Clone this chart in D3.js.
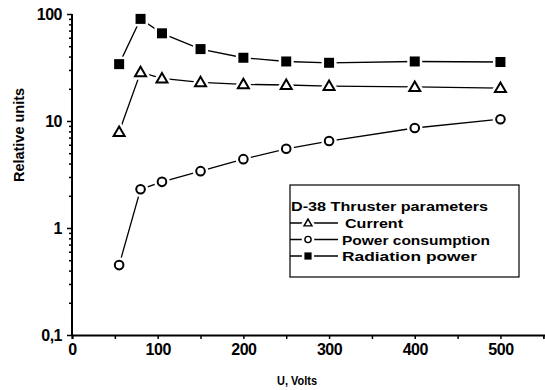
<!DOCTYPE html>
<html>
<head>
<meta charset="utf-8">
<script src="https://cdn.jsdelivr.net/npm/d3@7"></script>
<style>
  html, body { margin: 0; padding: 0; background: #fff; }
  svg text { font-family: "Liberation Sans", Arial, sans-serif; font-weight: bold; fill: #000; }
</style>
</head>
<body>
<svg id="chart" width="545" height="390"></svg>
<script>
// Discharge voltage, V
const voltage = [55, 80, 105, 150, 200, 250, 300, 400, 500];
// Relative units
const current = [7.9, 28.5, 25, 23, 22, 21.7, 21.2, 20.8, 20.3];
const powerConsumption = [0.45, 2.3, 2.7, 3.4, 4.4, 5.5, 6.5, 8.6, 10.4];
const radiationPower = [34, 90, 66, 47, 39, 36, 35, 36, 35.6];

const xTicks = [0, 100, 200, 300, 400, 500];
const yTicks = [0.1, 1, 10, 100];
const yTickLabels = ["0,1", "1", "10", "100"];

const legendTitle = "D-38 Thruster parameters";
const seriesNames = ["Current", "Power consumption", "Radiation power"];

const svg = d3.select("#chart");
const plotLeft = 72, plotRight = 545, plotTop = 14, plotBottom = 335;

const x = d3.scaleLinear().domain([0, 552]).range([plotLeft, plotRight]);
const y = d3.scaleLog().domain([0.1, 100]).range([plotBottom, plotTop]);

// Axes
const xAxis = d3.axisBottom(x)
  .tickValues(d3.range(0, 551, 50))
  .tickSize(4)
  .tickFormat(d => xTicks.includes(d) ? d : "");
const gx = svg.append("g").attr("transform", `translate(0,${plotBottom})`).call(xAxis);
gx.select(".domain").attr("stroke-width", 2);
gx.selectAll(".tick line").attr("stroke-width", 1.5);
gx.selectAll(".tick text").attr("font-size", 16).attr("y", 6).attr("dy", "0.85em")
  .attr("letter-spacing", -0.5);

const minorY = [];
for (let e = -1; e < 2; e++) for (let m = 1; m < 10; m++) minorY.push(m * Math.pow(10, e));
minorY.push(100);
const yAxis = d3.axisLeft(y)
  .tickValues(minorY)
  .tickSize(3)
  .tickFormat(d => {
    const i = yTicks.findIndex(t => Math.abs(t - d) < 1e-9);
    return i >= 0 ? yTickLabels[i] : "";
  });
const gy = svg.append("g").attr("transform", `translate(${plotLeft},0)`).call(yAxis);
gy.select(".domain").attr("stroke-width", 2).attr("d", `M-0,${plotBottom}V${plotTop}`);
gy.selectAll(".tick line").attr("stroke-width", 1.5)
  .attr("x2", d => yTicks.some(t => Math.abs(t - d) < 1e-9) ? -5 : -3);
gy.selectAll(".tick text").attr("font-size", 16).attr("x", -10).attr("letter-spacing", -0.5);

// Axis titles
svg.append("text")
  .attr("x", 277).attr("y", 385)
  .attr("font-size", 13).attr("textLength", 40).attr("lengthAdjust", "spacingAndGlyphs")
  .text("U, Volts");
svg.append("text")
  .attr("transform", "translate(24,135) rotate(-90)")
  .attr("x", -47)
  .attr("font-size", 14).attr("textLength", 94).attr("lengthAdjust", "spacingAndGlyphs")
  .text("Relative units");

// Series
const series = [
  { name: seriesNames[0], values: current, shape: "triangle" },
  { name: seriesNames[1], values: powerConsumption, shape: "circle" },
  { name: seriesNames[2], values: radiationPower, shape: "square" }
];

// Markers carry a white halo so connecting lines stop short of them
function drawMarker(g, shape, cx, cy, k = 1, halo = 2.5) {
  const layers = halo > 0 ? [["#fff", 2 * k + 2 * halo], ["#000", 2 * k]] : [["#000", 2 * k]];
  layers.forEach(([col, sw], li) => {
    const isHalo = halo > 0 && li === 0;
    if (shape === "square") {
      const s = 10 * k;
      g.append("rect").attr("x", cx - s / 2).attr("y", cy - s / 2).attr("width", s).attr("height", s)
        .attr("fill", isHalo ? "#fff" : "#000")
        .attr("stroke", isHalo ? "#fff" : "none").attr("stroke-width", isHalo ? 2 * halo : 0);
    } else if (shape === "circle") {
      g.append("circle").attr("cx", cx).attr("cy", cy).attr("r", 4.3 * k)
        .attr("fill", "#fff").attr("stroke", col).attr("stroke-width", sw);
    } else {
      const a = 5.5 * k, b = 4 * k;
      g.append("path")
        .attr("d", `M${cx},${cy - a}L${cx + a},${cy + b}L${cx - a},${cy + b}Z`)
        .attr("fill", "#fff").attr("stroke", col).attr("stroke-width", sw)
        .attr("stroke-linejoin", "miter");
    }
  });
}

const line = d3.line().x(d => x(d[0])).y(d => y(d[1]));
series.forEach(s => {
  const pts = voltage.map((v, i) => [v, s.values[i]]);
  svg.append("path").datum(pts).attr("d", line)
    .attr("fill", "none").attr("stroke", "#000").attr("stroke-width", 1.3);
  const g = svg.append("g");
  pts.forEach(p => drawMarker(g, s.shape, x(p[0]), y(p[1])));
});

// Legend
const lg = svg.append("g");
lg.append("rect").attr("x", 290).attr("y", 185).attr("width", 229).attr("height", 92)
  .attr("fill", "#fff").attr("stroke", "#000").attr("stroke-width", 1.2);
lg.append("text").attr("x", 291).attr("y", 211).attr("font-size", 13)
  .attr("textLength", 197).attr("lengthAdjust", "spacingAndGlyphs").text(legendTitle);
const legendWidths = [58, 148, 135];
series.forEach((s, i) => {
  const ly = 223 + i * 16.5;
  lg.append("line").attr("x1", 290).attr("x2", 338).attr("y1", ly).attr("y2", ly)
    .attr("stroke", "#000").attr("stroke-width", 1.3);
  drawMarker(lg, s.shape, 308, ly, 0.72, 2.5);
  lg.append("text").attr("x", i === 0 ? 345 : 342).attr("y", ly + 5).attr("font-size", 13)
    .attr("textLength", legendWidths[i]).attr("lengthAdjust", "spacingAndGlyphs").text(s.name);
});
</script>
</body>
</html>
